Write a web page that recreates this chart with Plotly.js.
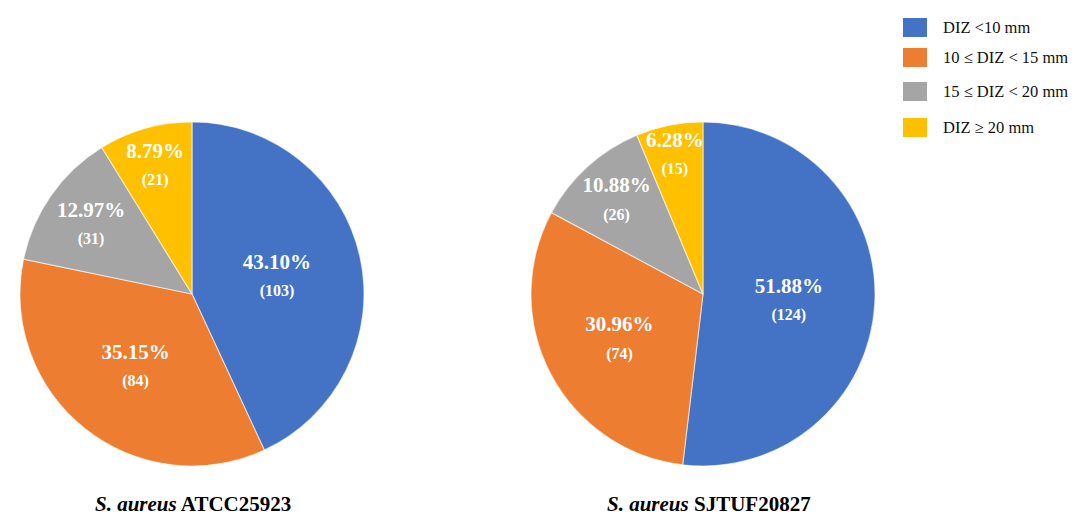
<!DOCTYPE html>
<html>
<head>
<meta charset="utf-8">
<script src="https://cdn.plot.ly/plotly-3.0.1.min.js"></script>
<style>html,body{margin:0;padding:0;background:#fff;}#chart{width:1080px;height:519px;}</style>
</head>
<body>
<div id="chart"></div>
<script>
const categories = ["DIZ <10 mm", "10 \u2264 DIZ < 15 mm", "15 \u2264 DIZ < 20 mm", "DIZ \u2265 20 mm"];
const colors = ["#4472C4", "#ED7D31", "#A5A5A5", "#FFC000"];
const strainNames = ["ATCC25923", "SJTUF20827"];
const countsATCC = [103, 84, 31, 21];
const countsSJTUF = [124, 74, 26, 15];
const pctATCC = ["43.10%", "35.15%", "12.97%", "8.79%"];
const pctSJTUF = ["51.88%", "30.96%", "10.88%", "6.28%"];

const W = 1080, H = 519;
function px(x){return x/W;}
function py(y){return 1 - y/H;}

function labelsFor(pcts, counts){
  return pcts.map((p,i)=> '<b>' + p + '</b><br><b><span style="font-size:16px">(' + counts[i] + ')</span></b>');
}

function pieTrace(counts, pcts, dom){
  return {
    type: 'pie',
    values: counts,
    labels: categories,
    text: labelsFor(pcts, counts),
    textinfo: 'text',
    texttemplate: '%{text}',
    textposition: 'inside',
    insidetextorientation: 'horizontal',
    insidetextfont: {family: '"Liberation Serif", "Times New Roman", serif', size: 21, color: '#ffffff'},
    sort: false,
    direction: 'clockwise',
    rotation: 0,
    marker: {colors: colors, line: {color: 'rgba(255,255,255,0.55)', width: 1.2}},
    domain: dom,
    showlegend: false,
    hoverinfo: 'label+value'
  };
}

const data = [
  pieTrace(countsATCC, pctATCC, {x:[px(20), px(364)], y:[py(466), py(122)]}),
  pieTrace(countsSJTUF, pctSJTUF, {x:[px(531), px(875)], y:[py(466), py(122)]})
];

const shapes = [];
const annotations = [];
const legendTop = [18, 48, 82, 118];
categories.forEach((c,i)=>{
  shapes.push({type:'rect', xref:'paper', yref:'paper', x0:px(903), x1:px(927), y0:py(legendTop[i]+19), y1:py(legendTop[i]), fillcolor:colors[i], line:{width:0}});
  annotations.push({xref:'paper', yref:'paper', x:px(941), y:py(legendTop[i]+9.5), xanchor:'left', yanchor:'middle', showarrow:false, text:c, font:{family:'"Liberation Serif", "Times New Roman", serif', size:16.5, color:'#111'}});
});
const titleX = [193, 709];
strainNames.forEach((s,i)=>{
  annotations.push({xref:'paper', yref:'paper', x:px(titleX[i]), y:py(504), xanchor:'center', yanchor:'middle', showarrow:false, text:'<b><i>S. aureus</i> ' + s + '</b>', font:{family:'"Liberation Serif", "Times New Roman", serif', size:21, color:'#000'}});
});

const layout = {
  width: W, height: H,
  margin: {l:0, r:0, t:0, b:0},
  paper_bgcolor: '#ffffff',
  plot_bgcolor: '#ffffff',
  showlegend: false,
  uniformtext: {mode: 'show', minsize: 21},
  shapes: shapes,
  annotations: annotations
};

Plotly.newPlot('chart', data, layout, {displayModeBar: false, staticPlot: true});
</script>
</body>
</html>
